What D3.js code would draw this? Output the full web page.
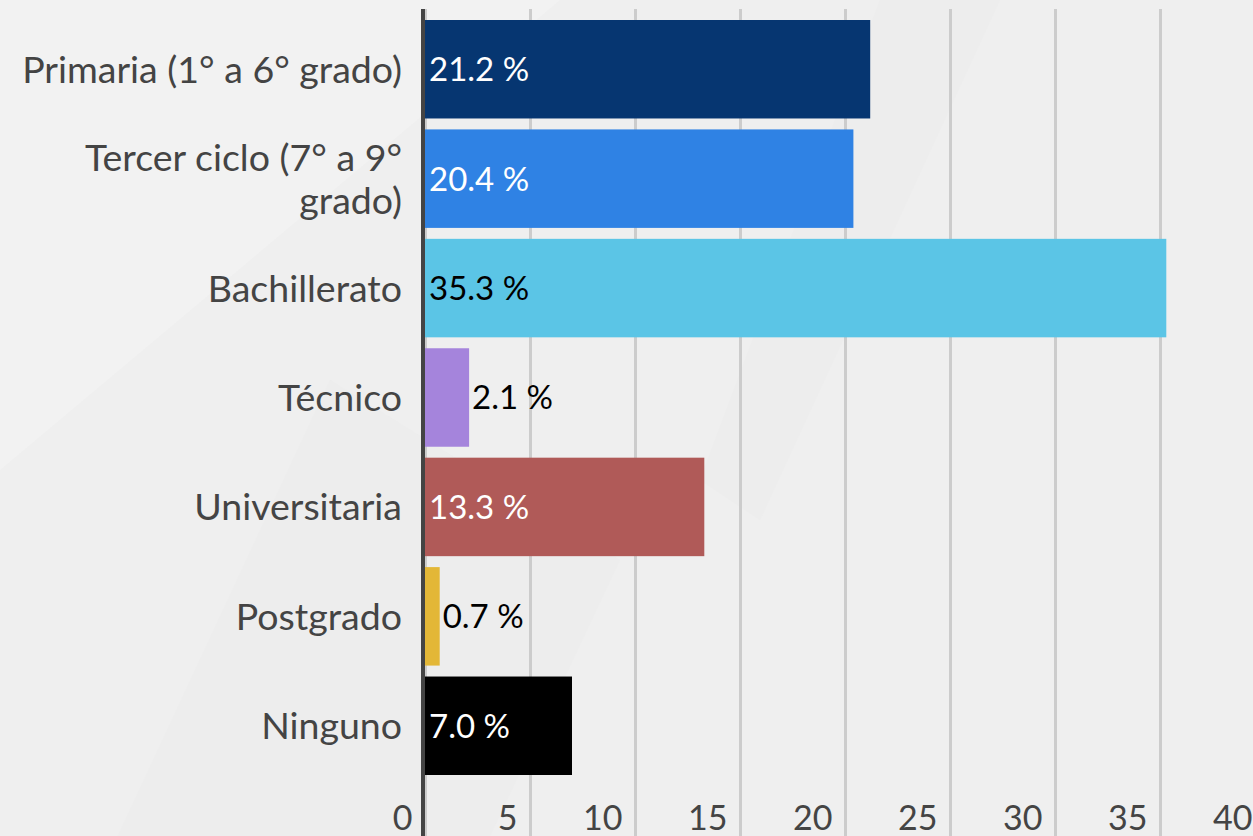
<!DOCTYPE html>
<html>
<head>
<meta charset="utf-8">
<script src="https://cdn.jsdelivr.net/npm/d3@7"></script>
<style>
  html, body { margin: 0; padding: 0; background: #efefef; }
  svg { display: block; }
</style>
</head>
<body>
<div id="chart"></div>
<script>
// chart data
const categories = [
    "Primaria (1° a 6° grado)",
    "Tercer ciclo (7° a 9°\ngrado)",
    "Bachillerato",
    "Técnico",
    "Universitaria",
    "Postgrado",
    "Ninguno"
];
const values = [21.2, 20.4, 35.3, 2.1, 13.3, 0.7, 7.0];
const barColors = ["#063671", "#2f82e4", "#5bc5e6", "#a584dc", "#b05a58", "#e3b737", "#000000"];
const labelColors = ["#fff", "#fff", "#000", "#000", "#fff", "#000", "#fff"];
const xTicks = [0, 5, 10, 15, 20, 25, 30, 35, 40];

const width = 1253;
const height = 836;

const svg = d3.select('#chart').append('svg')
    .attr('width', width)
    .attr('height', height);

// background with faint shapes
svg.append('rect')
    .attr('width', width)
    .attr('height', height)
    .attr('fill', '#efefef');

const bg = svg.append('g');
bg.append('polygon')
    .attr('points', '0,0 560,0 0,470')
    .attr('fill', '#f2f2f2');
bg.append('polygon')
    .attr('points', '60,960 330,380 620,560 460,900')
    .attr('fill', '#ebebeb')
    .attr('opacity', 0.5);
bg.append('polygon')
    .attr('points', '880,0 1000,0 760,520 700,480')
    .attr('fill', '#ececec')
    .attr('opacity', 0.5);

const x = d3.scaleLinear()
    .domain([0, 40])
    .range([425, 1265]);

const y = d3.scaleBand()
    .domain(categories)
    .range([20, 775])
    .paddingInner(0.1)
    .paddingOuter(0);

// gridlines + tick labels
const axis = svg.append('g')
    .attr('transform', `translate(0, ${height})`)
    .call(d3.axisBottom(x).tickValues(xTicks).tickSize(-(height - 9)).tickFormat(d3.format('d')));

axis.select('.domain').remove();
axis.selectAll('.tick line')
    .attr('stroke', '#cccccc')
    .attr('stroke-width', 3);
axis.selectAll('.tick text')
    .attr('y', -6)
    .attr('dy', 0)
    .attr('dx', -13)
    .attr('text-anchor', 'end')
    .attr('fill', '#444')
    .style('font-family', 'Lato, sans-serif')
    .style('font-size', '34px');

// bars
svg.append('g')
    .selectAll('rect')
    .data(values)
    .join('rect')
    .attr('x', x(0))
    .attr('y', (d, i) => y(categories[i]))
    .attr('width', d => x(d) - x(0))
    .attr('height', y.bandwidth())
    .attr('fill', (d, i) => barColors[i]);

// y axis line
svg.append('line')
    .attr('x1', x(0) - 2)
    .attr('x2', x(0) - 2)
    .attr('y1', 9)
    .attr('y2', height)
    .attr('stroke', '#444')
    .attr('stroke-width', 4);

// category labels
const catLabels = svg.append('g')
    .selectAll('text')
    .data(categories)
    .join('text')
    .attr('text-anchor', 'end')
    .attr('fill', '#444')
    .style('font-family', 'Lato, sans-serif')
    .style('font-size', '37.5px');

catLabels.each(function(d) {
    const lines = d.split('\n');
    const lineH = 43;
    const cy = y(d) + y.bandwidth() / 2;
    const top = cy - (lines.length - 1) * lineH / 2;
    lines.forEach((line, k) => {
        d3.select(this).append('tspan')
            .attr('x', 402)
            .attr('y', top + k * lineH)
            .attr('dy', '0.36em')
            .text(line);
    });
});

// value labels
svg.append('g')
    .selectAll('text')
    .data(values)
    .join('text')
    .attr('x', d => (x(d) - x(0) > 110 ? x(0) + 4 : x(d) + 3))
    .attr('y', (d, i) => y(categories[i]) + y.bandwidth() / 2)
    .attr('dy', '0.36em')
    .attr('fill', (d, i) => labelColors[i])
    .style('font-family', 'Lato, sans-serif')
    .style('font-size', '33px')
    .text(d => d.toFixed(1) + ' %');
</script>
</body>
</html>
